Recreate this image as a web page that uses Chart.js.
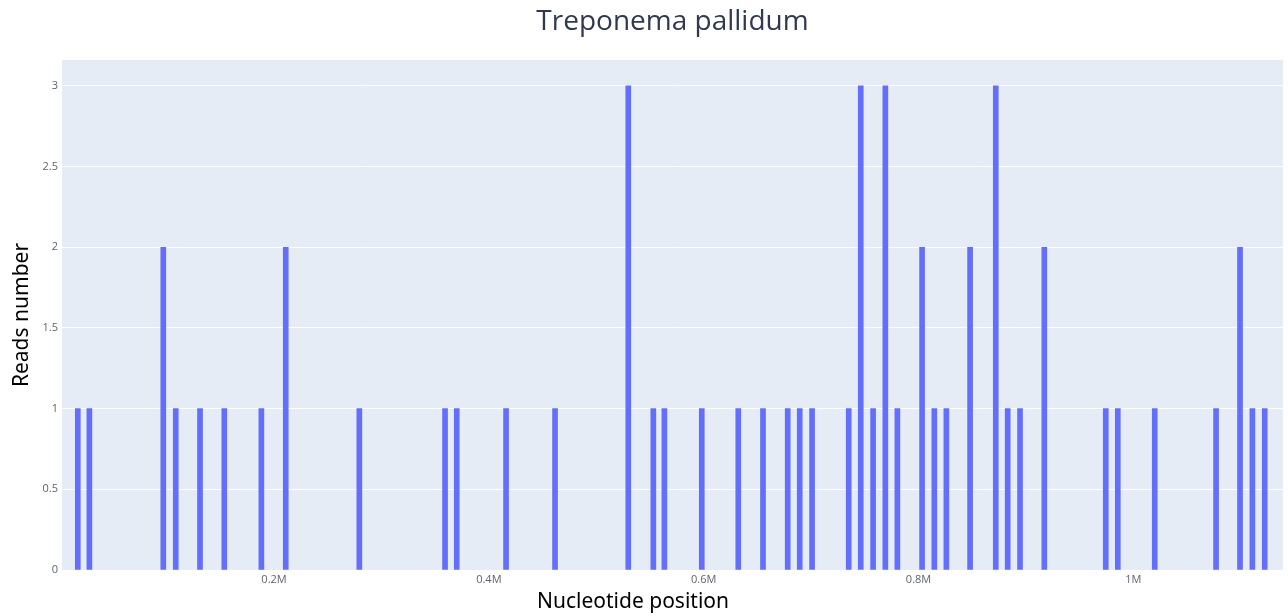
<!DOCTYPE html>
<html>
<head>
<meta charset="utf-8">
<script src="https://cdn.jsdelivr.net/npm/chart.js@4"></script>
<style>
	html, body { margin: 0; padding: 0; background: #ffffff; }
	#wrap { width: 1288px; height: 616px; }
</style>
</head>
<body>
<div id="wrap"><canvas id="reads" width="1288" height="616"></canvas></div>
<script>
var positions = [17300, 28100, 96900, 108500, 131100, 153700, 188200, 210900, 279400,
	359200, 370100, 416000, 461600, 529800, 553100, 563400, 598200, 632200, 655200,
	678200, 689400, 700900, 735000, 746200, 757700, 769100, 780300, 803300, 814700,
	825900, 848000, 871900, 883000, 894500, 917100, 974300, 985500, 1019900, 1077000,
	1099300, 1110800, 1122300];
var reads = [1, 1, 2, 1, 1, 1, 1, 2, 1,
	1, 1, 1, 1, 3, 1, 1, 1, 1, 1,
	1, 1, 1, 1, 3, 1, 3, 1, 2, 1,
	1, 2, 3, 1, 1, 2, 1, 1, 1, 1,
	2, 1, 1];

var xTicks = [200000, 400000, 600000, 800000, 1000000];
var xTickLabels = ["0.2M", "0.4M", "0.6M", "0.8M", "1M"];
var yTicks = [0, 0.5, 1, 1.5, 2, 2.5, 3];
var yTickLabels = ["0", "0.5", "1", "1.5", "2", "2.5", "3"];

var readsChart;

// plotly-like plot background
const plotBg = {
	id: 'plotBg',
	beforeDraw(chart) {
		const { ctx, chartArea: a } = chart;
		ctx.save();
		ctx.fillStyle = '#e5ecf6';
		ctx.fillRect(a.left, a.top, a.right - a.left, a.bottom - a.top);
		ctx.restore();
	}
};

// x title sits left of the axis centre in the original
const xTitle = {
	id: 'xTitle',
	afterDraw(chart) {
		const ctx = chart.ctx;
		ctx.save();
		ctx.font = '21px "Noto Sans"';
		ctx.fillStyle = '#000000';
		ctx.textAlign = 'center';
		ctx.textBaseline = 'middle';
		ctx.fillText('Nucleotide position', 633, 602);
		ctx.restore();
	}
};

function renderReads() {
	var ctx = document.getElementById('reads');

	var chartData = {
		datasets: [
			{
				data: positions.map((p, i) => ({ x: p, y: reads[i] })),
				backgroundColor: '#636efa',
				borderWidth: 0,
				barThickness: 5
			}
		]
	};

	var chartOptions = {
		responsive: false,
		animation: false,
		devicePixelRatio: 1,
		layout: { padding: { left: 0, right: 5, top: 0, bottom: 0 } },
		plugins: {
			legend: { display: false },
			tooltip: { enabled: false },
			title: {
				display: true,
				text: 'Treponema pallidum',
				fullSize: false,
				color: '#2f3a50',
				font: { family: '"Open Sans"', size: 28, weight: 'normal' },
				padding: { top: 5.2, bottom: 21.2 }
			}
		},
		scales: {
			x: {
				type: 'linear',
				offset: false,
				min: 2600,
				max: 1139300,
				border: { display: false },
				grid: { display: false, drawTicks: false },
				afterBuildTicks: (s) => { s.ticks = xTicks.map(v => ({ value: v })); },
				afterFit: (s) => { s.height = 46; },
				ticks: {
					padding: 3,
					color: '#5f6470',
					font: { family: '"Open Sans"', size: 11 },
					maxRotation: 0,
					callback: (v) => xTickLabels[xTicks.indexOf(v)]
				}
			},
			y: {
				min: 0,
				max: 3.16,
				border: { display: false },
				grid: { color: '#ffffff', lineWidth: 1, drawTicks: false },
				afterBuildTicks: (s) => { s.ticks = yTicks.map(v => ({ value: v })); },
				afterFit: (s) => { s.width = 62; },
				ticks: {
					padding: 4,
					color: '#5f6470',
					font: { family: '"Open Sans"', size: 11 },
					callback: (v) => yTickLabels[yTicks.indexOf(v)]
				},
				title: {
					display: true,
					text: 'Reads number',
					color: '#000000',
					font: { family: '"Noto Sans"', size: 21 },
					padding: { top: 9.4, bottom: 0 }
				}
			}
		}
	};

	readsChart = new Chart(ctx, {
		type: 'bar',
		data: chartData,
		options: chartOptions,
		plugins: [plotBg, xTitle]
	});
}

renderReads();
</script>
</body>
</html>
